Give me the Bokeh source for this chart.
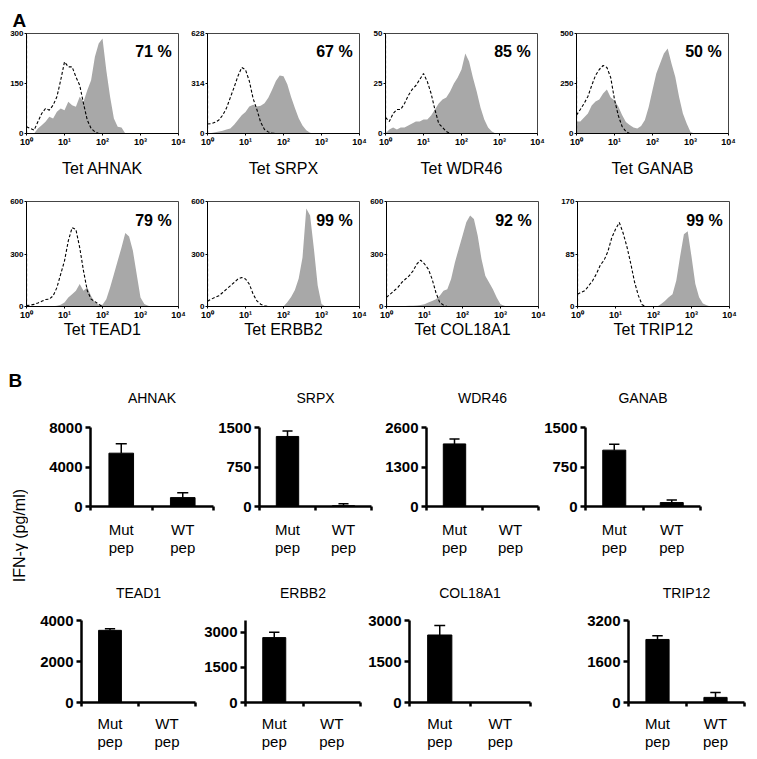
import math
from bokeh.plotting import figure
from bokeh.models import FixedTicker, Label, Range1d, Title, LinearAxis
from bokeh.layouts import row, column
from bokeh.embed import file_html
from bokeh.resources import INLINE
from bokeh.core.properties import value

FONT = "Liberation Sans"
GRAY = "#a8a8a8"

# ---------------- Panel A : tetramer histograms ----------------
HIST_NAMES = ["AHNAK", "SRPX", "WDR46", "GANAB", "TEAD1", "ERBB2", "COL18A1", "TRIP12"]
HIST_PCT = ["71 %", "67 %", "85 %", "50 %", "79 %", "99 %", "92 %", "99 %"]
HIST_YMAX = [300, 628, 50, 500, 600, 600, 600, 170]
HIST_YMID = [150, 314, 25, 250, 300, 300, 300, 85]
X_TICKS = [1, 10, 100, 1000, 10000]
X_TICK_LABELS = ["10⁰", "10¹", "10²", "10³", "10⁴"]
BIN_STEP = 0.1  # channels every 0.1 decade starting at 10^0

# gray filled histogram (tetramer on mutant-reactive cells)
TET_AHNAK = [0, 0, 0, 15, 25, 35, 50, 45, 65, 75, 70, 95, 85, 80, 110, 95, 130, 160, 230, 270, 285, 190, 110, 45, 20, 18, 0]
TET_SRPX = [0, 3, 8, 12, 18, 25, 32, 55, 85, 115, 135, 170, 180, 170, 175, 190, 225, 275, 330, 365, 360, 310, 230, 160, 95, 50, 20, 5, 0]
TET_WDR46 = [0, 2, 3, 2, 3, 3, 4, 5, 6, 6, 7, 7, 9, 12, 15, 17, 18, 21, 25, 28, 32, 40, 36, 28, 21, 13, 7, 3, 1, 0]
TET_GANAB = [60, 60, 80, 100, 140, 160, 170, 200, 220, 180, 165, 135, 92, 58, 42, 30, 25, 37, 67, 133, 217, 300, 350, 400, 425, 350, 283, 183, 100, 50, 8, 0]
TET_TEAD1 = [0, 0, 0, 0, 0, 0, 0, 2, 5, 10, 23, 51, 70, 90, 128, 90, 110, 60, 23, 10, 10, 42, 109, 185, 261, 337, 420, 400, 318, 185, 51, 15, 5, 0]
TET_ERBB2 = [0, 0, 0, 0, 0, 0, 0, 0, 0, 0, 0, 0, 0, 0, 0, 0, 0, 0, 0, 0, 0, 25, 55, 95, 160, 280, 560, 520, 330, 120, 15, 0]
TET_COL18A1 = [0, 0, 0, 0, 0, 3, 4, 5, 6, 8, 13, 23, 32, 42, 61, 90, 99, 157, 252, 329, 405, 481, 520, 500, 405, 271, 176, 137, 99, 52, 13, 4, 0]
TET_TRIP12 = [0, 0, 0, 0, 0, 0, 0, 0, 0, 0, 0, 0, 0, 0, 0, 0, 0, 0, 0, 0, 0, 0, 4, 9, 15, 20, 42, 81, 117, 122, 81, 37, 15, 5, 2, 0]

# dashed outline histogram (control)
CTRL_AHNAK = [20, 15, 10, 35, 60, 75, 70, 85, 110, 160, 215, 200, 200, 170, 145, 90, 40, 15, 5, 0]
CTRL_SRPX = [60, 62, 70, 85, 115, 160, 225, 290, 360, 415, 400, 330, 220, 150, 70, 25, 10, 3, 0]
CTRL_WDR46 = [8, 6, 10, 12, 12, 15, 19, 22, 24, 27, 30, 26, 20, 12, 5, 3, 1, 0]
CTRL_GANAB = [92, 120, 150, 185, 240, 290, 320, 340, 330, 280, 170, 90, 35, 10, 0]
CTRL_TEAD1 = [5, 8, 12, 20, 30, 40, 42, 61, 108, 185, 261, 375, 450, 440, 337, 204, 90, 42, 28, 13, 0]
CTRL_ERBB2 = [30, 42, 52, 61, 80, 99, 118, 137, 157, 166, 157, 128, 71, 32, 13, 4, 0]
CTRL_COL18A1 = [52, 71, 90, 109, 137, 157, 176, 204, 243, 265, 243, 214, 157, 80, 23, 8, 0]
CTRL_TRIP12 = [20, 23, 26, 34, 42, 53, 67, 75, 89, 111, 125, 136, 119, 97, 70, 40, 18, 3, 0]
# pile-up in the first channel of the control histogram
CTRL_SPIKE = [300, 314, 50, 280, 300, 300, 300, 85]

HIST_TET = [TET_AHNAK, TET_SRPX, TET_WDR46, TET_GANAB, TET_TEAD1, TET_ERBB2, TET_COL18A1, TET_TRIP12]
HIST_CTRL = [CTRL_AHNAK, CTRL_SRPX, CTRL_WDR46, CTRL_GANAB, CTRL_TEAD1, CTRL_ERBB2, CTRL_COL18A1, CTRL_TRIP12]

# ---------------- Panel B : IFN-gamma bars ----------------
BAR_NAMES = ["AHNAK", "SRPX", "WDR46", "GANAB", "TEAD1", "ERBB2", "COL18A1", "TRIP12"]
BAR_CATS = ["Mut\npep", "WT\npep"]
BAR_POS = [0.5, 1.5]
BAR_YMAX = [8000, 1500, 2600, 1500, 4000, 3500, 3000, 3200]
BAR_TICKS = [[0, 4000, 8000], [0, 750, 1500], [0, 1300, 2600], [0, 750, 1500],
             [0, 2000, 4000], [0, 1500, 3000], [0, 1500, 3000], [0, 1600, 3200]]
MUT_MEAN = [5400, 1330, 2060, 1070, 3520, 2770, 2470, 2460]
MUT_ERR = [950, 105, 160, 110, 80, 230, 345, 145]
WT_MEAN = [900, 15, 0, 75, 0, 0, 0, 200]
WT_ERR = [500, 35, 0, 50, 0, 0, 0, 195]


def clean(p):
    p.xgrid.visible = False
    p.ygrid.visible = False
    p.background_fill_color = "white"
    p.border_fill_color = "white"


def make_hist(k, L, R, T, B, fh, lab_standoff):
    p = figure(x_axis_type="log", x_range=Range1d(1, 10000), y_range=Range1d(0, HIST_YMAX[k]),
               frame_width=152, frame_height=fh, min_border_left=L, min_border_right=R,
               min_border_top=T, min_border_bottom=B, output_backend="svg",
               toolbar_location=None, outline_line_color="#444444", outline_line_width=1)
    clean(p)
    tet = HIST_TET[k]
    xt = [10 ** (BIN_STEP * i) for i in range(len(tet))]
    p.varea(x=xt, y1=0, y2=tet, fill_color=GRAY)
    ctl = HIST_CTRL[k]
    xc = [10 ** (BIN_STEP * i) for i in range(len(ctl))]
    p.segment(x0=[1], y0=[0], x1=[1], y1=[CTRL_SPIKE[k]], line_color="black",
              line_width=1.2, line_dash="3 2")
    p.line(xc, ctl, line_color="black", line_width=1.1, line_dash="3 2")
    p.add_layout(Label(x=10 ** 3.82, y=HIST_YMAX[k] * 0.82, text=HIST_PCT[k],
                       text_align="right", text_baseline="middle", text_font=FONT,
                       text_font_size="16px", text_font_style="bold", text_color="black"))
    xa = p.xaxis[0]
    xa.ticker = FixedTicker(ticks=X_TICKS)
    xa.major_label_overrides = dict(zip(X_TICKS, X_TICK_LABELS))
    ya = p.yaxis[0]
    ya.ticker = FixedTicker(ticks=[0, HIST_YMID[k], HIST_YMAX[k]])
    for a in (xa, ya):
        a.major_label_text_font = FONT
        a.major_label_text_font_size = "8px"
        a.major_label_text_font_style = "bold"
        a.major_label_text_color = "black"
        a.major_tick_out = 2
        a.major_tick_in = 0
        a.minor_tick_out = 0
        a.minor_tick_in = 0
        a.major_label_standoff = 1
        a.axis_line_color = "black"
        a.major_tick_line_color = "black"
    xa.major_label_text_font_size = "9px"
    xa.axis_label = "Tet " + HIST_NAMES[k]
    xa.axis_label_text_font = FONT
    xa.axis_label_text_font_size = "16px"
    xa.axis_label_text_font_style = "normal"
    xa.axis_label_text_color = "black"
    xa.axis_label_standoff = lab_standoff
    return p


def make_bar(k, L, R, T, B, fw, fh, title_gap, lab_standoff):
    p = figure(x_range=Range1d(0, 2), y_range=Range1d(0, BAR_YMAX[k]),
               frame_width=fw, frame_height=fh, min_border_left=L, min_border_right=R,
               min_border_top=T, min_border_bottom=B, output_backend="svg",
               toolbar_location=None, outline_line_color=None)
    clean(p)
    # gene name above each bar chart: label of an empty top axis
    top = LinearAxis(ticker=FixedTicker(ticks=[]), axis_line_color=None,
                     major_tick_line_color=None, minor_tick_line_color=None,
                     major_tick_out=0, major_tick_in=0, minor_tick_out=0, minor_tick_in=0,
                     major_label_standoff=0, axis_label=BAR_NAMES[k],
                     axis_label_standoff=title_gap, axis_label_text_font=FONT,
                     axis_label_text_font_size="14px", axis_label_text_font_style="normal",
                     axis_label_text_color="black")
    p.add_layout(top, "above")
    means = [MUT_MEAN[k], WT_MEAN[k]]
    errs = [MUT_ERR[k], WT_ERR[k]]
    p.vbar(x=BAR_POS, top=means, width=0.4, fill_color="black", line_color="black")
    ex, ey0, ey1 = [], [], []
    for x, m, e in zip(BAR_POS, means, errs):
        if e > 0:
            ex.append(x)
            ey0.append(m)
            ey1.append(m + e)
    if ex:
        p.segment(x0=ex, y0=ey0, x1=ex, y1=ey1, line_color="black", line_width=1.5)
        p.segment(x0=[x - 0.09 for x in ex], y0=ey1, x1=[x + 0.09 for x in ex], y1=ey1,
                  line_color="black", line_width=1.5)
    xa = p.below[0]
    xa.ticker = FixedTicker(ticks=BAR_POS, minor_ticks=[0, 1, 2])
    xa.major_label_overrides = dict(zip(BAR_POS, BAR_CATS))
    xa.major_tick_line_color = None
    xa.major_tick_out = 0
    xa.major_tick_in = 0
    xa.minor_tick_out = 4
    xa.minor_tick_in = 0
    xa.minor_tick_line_width = 2.5
    xa.minor_tick_line_color = "black"
    xa.major_label_standoff = lab_standoff
    xa.major_label_text_font = FONT
    xa.major_label_text_font_size = "15px"
    xa.major_label_text_font_style = "normal"
    xa.major_label_text_color = "black"
    xa.major_label_text_line_height = 1.1
    ya = p.left[0]
    ya.ticker = FixedTicker(ticks=BAR_TICKS[k])
    ya.major_tick_out = 5
    ya.major_tick_in = 0
    ya.minor_tick_out = 0
    ya.minor_tick_in = 0
    ya.major_tick_line_width = 2.5
    ya.major_label_standoff = 3
    ya.major_label_text_font = FONT
    ya.major_label_text_font_size = "15px"
    ya.major_label_text_font_style = "bold"
    ya.major_label_text_color = "black"
    for a in (xa, ya):
        a.axis_line_width = 2.5
        a.axis_line_color = "black"
    return p


# ---- histogram rows
HL = [26, 21, 18, 31]
h_row1 = [make_hist(i, HL[i], 8, 33, 50, 100, 10) for i in range(4)]
h_row2 = [make_hist(4 + i, HL[i], 8, 18, 34, 105, -2) for i in range(4)]

h_row1[0].add_layout(Title(text="A", align="left", offset=-14, standoff=6, text_font=FONT,
                           text_font_size="19px", text_font_style="bold", text_color="black"),
                     "above")

# ---- bar rows
b_row1 = [
    make_bar(0, 62, 2, 87, 54, 123, 79, 22, 10),
    make_bar(1, 44, 2, 87, 54, 112, 79, 22, 10),
    make_bar(2, 53, 2, 87, 54, 112, 79, 22, 10),
    make_bar(3, 45, 10, 87, 54, 115, 79, 22, 10),
]
b_row2 = [
    make_bar(4, 53, 2, 60, 47, 114, 82, 20, 8),
    make_bar(5, 48, 2, 60, 47, 115, 82, 20, 8),
    make_bar(6, 47, 2, 60, 47, 121, 82, 20, 8),
    make_bar(7, 96, 4, 60, 47, 116, 82, 20, 8),
]

# ---- narrow strip holding panel letter B and the shared y label
side = figure(width=28, height=409, x_range=Range1d(0, 28), y_range=Range1d(0, 1),
              min_border=0, output_backend="svg", toolbar_location=None,
              x_axis_location=None, y_axis_location=None, outline_line_color=None)
clean(side)
side.text(x=[8], y=[0.902], text=["B"], text_font=value(FONT), text_font_size="19px",
          text_font_style="bold", text_align="left", text_baseline="middle", text_color="black")
side.text(x=[19], y=[0.523], text=["IFN-γ (pg/ml)"], angle=math.pi / 2,
          text_font=value(FONT), text_font_size="16px", text_align="center",
          text_baseline="middle", text_color="black")

layout = column(
    row(*h_row1, spacing=0),
    row(*h_row2, spacing=0),
    row(side, column(row(*b_row1, spacing=0), row(*b_row2, spacing=0), spacing=0), spacing=0),
    spacing=0,
)

open("out.html", "w").write(file_html(layout, INLINE))
